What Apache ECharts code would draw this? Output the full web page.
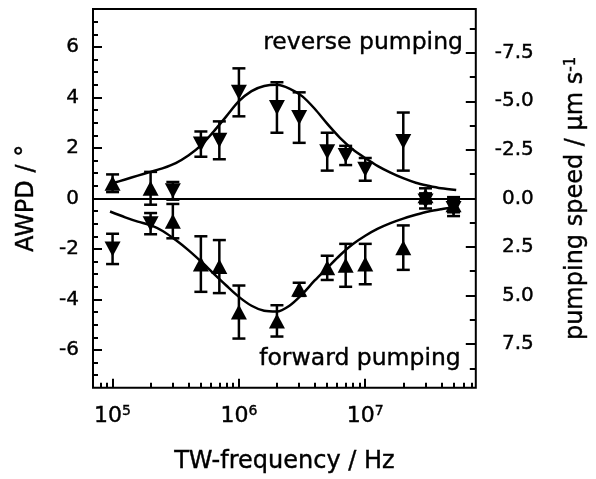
<!DOCTYPE html>
<html>
<head>
<meta charset="utf-8">
<script src="https://cdn.jsdelivr.net/npm/echarts@6/dist/echarts.min.js"></script>
<style>
html, body { margin: 0; padding: 0; background: #fff; }
#main { width: 596px; height: 479px; }
</style>
</head>
<body>
<div id="main"></div>
<script>
// measured frequencies (Hz)
var freqs = [1e5, 2e5, 3e5, 5e5, 7e5, 1e6, 2e6, 3e6, 5e6, 7e6, 1e7, 2e7, 3e7, 5e7];
// down triangles (reverse pumping)
var downVals = [-2.0, -1.0, 0.3, 2.15, 2.3, 4.2, 3.6, 3.2, 1.85, 1.7, 1.15, 2.25, -0.1, -0.4];
var downErr  = [0.6, 0.42, 0.35, 0.5, 0.75, 0.95, 1.0, 1.0, 0.75, 0.38, 0.45, 1.15, 0.3, 0.3];
// up triangles (forward pumping)
var upVals = [0.6, 0.4, -0.9, -2.6, -2.7, -4.5, -4.85, -3.6, -2.75, -2.65, -2.6, -1.95, 0.1, -0.25];
var upErr  = [0.35, 0.65, 0.68, 1.1, 1.05, 1.05, 0.62, 0.26, 0.48, 0.85, 0.8, 0.88, 0.3, 0.3];

// fit curves, log10(f) and value
var revFitLogF = [5.0, 5.1, 5.2, 5.3, 5.4, 5.5, 5.6, 5.7, 5.8, 5.9, 6.0, 6.1, 6.2, 6.3, 6.4, 6.5, 6.6, 6.7, 6.8, 6.9, 7.0, 7.1, 7.2, 7.3, 7.4, 7.5, 7.6, 7.72];
var revFitVals = [0.6, 0.75, 0.9, 1.05, 1.2, 1.4, 1.7, 2.1, 2.65, 3.25, 3.85, 4.25, 4.45, 4.5, 4.35, 4.05, 3.55, 2.95, 2.4, 1.95, 1.6, 1.28, 1.02, 0.8, 0.62, 0.5, 0.4, 0.33];
var fwdFitLogF = [4.98, 5.1, 5.2, 5.3, 5.4, 5.5, 5.6, 5.7, 5.8, 5.9, 6.0, 6.1, 6.2, 6.3, 6.4, 6.5, 6.6, 6.7, 6.8, 6.9, 7.0, 7.1, 7.2, 7.3, 7.4, 7.5, 7.6, 7.72];
var fwdFitVals = [-0.52, -0.75, -0.92, -1.06, -1.3, -1.65, -2.05, -2.5, -2.98, -3.45, -3.9, -4.25, -4.45, -4.48, -4.25, -3.8, -3.25, -2.75, -2.25, -1.82, -1.48, -1.2, -0.98, -0.8, -0.65, -0.52, -0.43, -0.34];

// ticks
var yTicks = [-6, -4, -2, 0, 2, 4, 6];
var yMinorTicks = [-7, -6.5, -5.5, -5, -4.5, -3.5, -3, -2.5, -1.5, -1, -0.5, 0.5, 1, 1.5, 2.5, 3, 3.5, 4.5, 5, 5.5, 6.5, 7];
var speedTicks = [-7.5, -5, -2.5, 0, 2.5, 5, 7.5];
var speedMinorTicks = [-8.75, -6.25, -3.75, -1.25, 1.25, 3.75, 6.25, 8.75];
var decadeTicks = [5, 6, 7];
var freqMinorTicks = [8e4, 9e4, 2e5, 3e5, 4e5, 5e5, 6e5, 7e5, 8e5, 9e5,
  2e6, 3e6, 4e6, 5e6, 6e6, 7e6, 8e6, 9e6, 2e7, 3e7, 4e7, 5e7, 6e7, 7e7];

var FONT = 'DejaVu Sans';
var xMin = Math.log10(7e4), xMax = Math.log10(7.5e7);
// slight outline to mimic the heavy scanned lettering
var heavy = { color: '#000', textBorderColor: '#000', textBorderWidth: 0.4 };

function pairs(xs, ys) {
  return xs.map(function (x, i) { return [x, ys[i]]; });
}

function errorBars(vals, errs) {
  return {
    type: 'custom',
    data: freqs.map(function (f, i) { return [Math.log10(f), vals[i] - errs[i], vals[i] + errs[i]]; }),
    encode: { x: 0, y: [1, 2] },
    renderItem: function (params, api) {
      var lo = api.coord([api.value(0), api.value(1)]);
      var hi = api.coord([api.value(0), api.value(2)]);
      var hw = 6.5;
      var st = { stroke: '#000', lineWidth: 2.5 };
      return {
        type: 'group',
        children: [
          { type: 'line', shape: { x1: lo[0], y1: lo[1], x2: hi[0], y2: hi[1] }, style: st },
          { type: 'line', shape: { x1: lo[0] - hw, y1: lo[1], x2: lo[0] + hw, y2: lo[1] }, style: st },
          { type: 'line', shape: { x1: hi[0] - hw, y1: hi[1], x2: hi[0] + hw, y2: hi[1] }, style: st }
        ]
      };
    },
    z: 2
  };
}

var myChart = echarts.init(document.getElementById('main'));
myChart.setOption({
  animation: false,
  backgroundColor: '#fff',
  grid: { left: 93, right: 116, top: 9, bottom: 87, show: true, borderColor: '#000', borderWidth: 2 },
  xAxis: [
    {
      type: 'value', min: xMin, max: xMax, position: 'bottom',
      axisLine: { show: false, onZero: false },
      splitLine: { show: false },
      axisTick: { inside: true, length: 9, customValues: decadeTicks, lineStyle: { color: '#000', width: 2 } },
      axisLabel: {
        customValues: decadeTicks, margin: 17,
        formatter: function (v) { return '{b|10}{s|' + Math.round(v) + '}'; },
        rich: {
          b: Object.assign({ fontFamily: FONT, fontSize: 22 }, heavy),
          s: Object.assign({ fontFamily: FONT, fontSize: 14, verticalAlign: 'top' }, heavy)
        }
      },
      name: 'TW-frequency / Hz', nameLocation: 'middle', nameGap: 62,
      nameTextStyle: Object.assign({ fontFamily: FONT, fontSize: 24 }, heavy)
    },
    {
      type: 'value', min: xMin, max: xMax, position: 'bottom',
      axisLine: { show: false, onZero: false },
      splitLine: { show: false },
      axisTick: { inside: true, length: 5, customValues: freqMinorTicks.map(Math.log10), lineStyle: { color: '#000', width: 2 } },
      axisLabel: { show: false }
    }
  ],
  yAxis: [
    {
      type: 'value', min: -7.5, max: 7.5, position: 'left',
      axisLine: { show: false, onZero: false },
      splitLine: { show: false },
      axisTick: { inside: true, length: 9, customValues: yTicks, lineStyle: { color: '#000', width: 2 } },
      axisLabel: Object.assign({ customValues: yTicks, margin: 14, fontFamily: FONT, fontSize: 20 }, heavy),
      name: 'AWPD / °', nameLocation: 'middle', nameGap: 54,
      nameTextStyle: Object.assign({ fontFamily: FONT, fontSize: 24 }, heavy)
    },
    {
      type: 'value', min: -7.5, max: 7.5, position: 'left',
      axisLine: { show: false, onZero: false },
      splitLine: { show: false },
      axisTick: { inside: true, length: 5, customValues: yMinorTicks, lineStyle: { color: '#000', width: 2 } },
      axisLabel: { show: false }
    },
    {
      type: 'value', min: -9.75, max: 9.75, inverse: true, position: 'right',
      axisLine: { show: false, onZero: false },
      splitLine: { show: false },
      axisTick: { inside: true, length: 10, customValues: speedTicks, lineStyle: { color: '#000', width: 2 } },
      axisLabel: Object.assign({
        customValues: speedTicks, margin: 58, align: 'right',
        fontFamily: FONT, fontSize: 20,
        formatter: function (v) { return v.toFixed(1); }
      }, heavy),
      name: '{m|pumping speed / µm s}{s|-1}', nameLocation: 'middle', nameGap: 88,
      nameTextStyle: {
        rich: {
          m: Object.assign({ fontFamily: FONT, fontSize: 24 }, heavy),
          s: Object.assign({ fontFamily: FONT, fontSize: 15, verticalAlign: 'top' }, heavy)
        }
      }
    },
    {
      type: 'value', min: -9.75, max: 9.75, inverse: true, position: 'right',
      axisLine: { show: false, onZero: false },
      splitLine: { show: false },
      axisTick: { inside: true, length: 6, customValues: speedMinorTicks, lineStyle: { color: '#000', width: 2 } },
      axisLabel: { show: false }
    }
  ],
  graphic: [
    { type: 'text', left: 263, top: 31, style: { text: 'reverse pumping', font: '23.5px "DejaVu Sans"', fill: '#000', stroke: '#000', lineWidth: 0.4 } },
    { type: 'text', left: 259, top: 347, style: { text: 'forward pumping', font: '23.5px "DejaVu Sans"', fill: '#000', stroke: '#000', lineWidth: 0.4 } }
  ],
  series: [
    {
      type: 'line', data: pairs(revFitLogF, revFitVals), smooth: 0.3, showSymbol: false,
      lineStyle: { color: '#000', width: 2.5 },
      markLine: {
        silent: true, symbol: ['none', 'none'], label: { show: false },
        lineStyle: { color: '#000', width: 2, type: 'solid' },
        data: [{ yAxis: 0 }]
      }
    },
    {
      type: 'line', data: pairs(fwdFitLogF, fwdFitVals), smooth: 0.3, showSymbol: false,
      lineStyle: { color: '#000', width: 2.5 }
    },
    errorBars(downVals, downErr),
    errorBars(upVals, upErr),
    {
      type: 'scatter', data: pairs(freqs.map(Math.log10), downVals),
      symbol: 'triangle', symbolRotate: 180, symbolSize: [16, 15],
      itemStyle: { color: '#000', opacity: 1 }, z: 3
    },
    {
      type: 'scatter', data: pairs(freqs.map(Math.log10), upVals),
      symbol: 'triangle', symbolSize: [16, 15],
      itemStyle: { color: '#000', opacity: 1 }, z: 3
    }
  ]
});
</script>
</body>
</html>
